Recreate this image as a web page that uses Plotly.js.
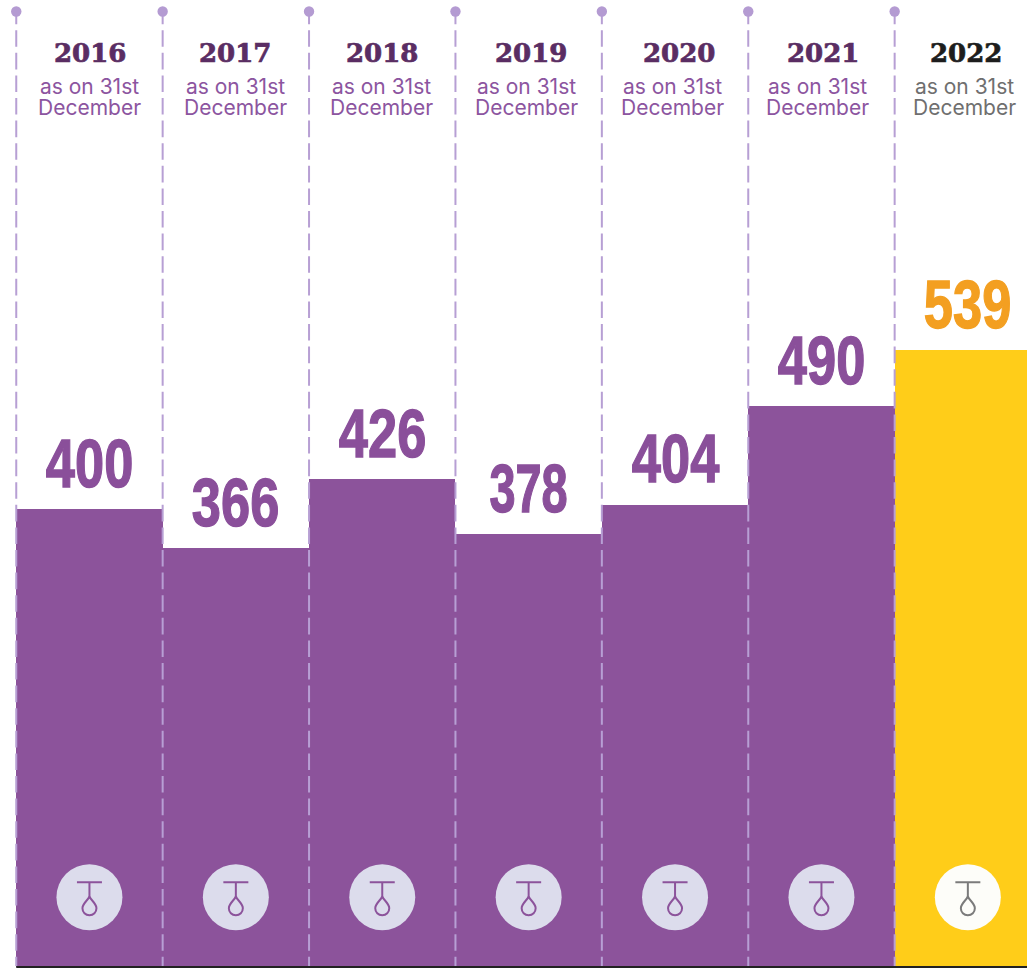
<!DOCTYPE html>
<html>
<head>
<meta charset="utf-8">
<script src="https://cdn.plot.ly/plotly-3.0.1.min.js"></script>
<style>html,body{margin:0;padding:0;background:#fff;overflow:hidden}#chart{width:1027px;height:968px}</style>
</head>
<body>
<div id="chart"></div>
<script>
const years = ["2016","2017","2018","2019","2020","2021","2022"];
const values = [400,366,426,378,404,490,539];
const barColors = ["#8c539b","#8c539b","#8c539b","#8c539b","#8c539b","#8c539b","#ffcd19"];
const valueColors = ["#8a4f9a","#8a4f9a","#8a4f9a","#8a4f9a","#8a4f9a","#8a4f9a","#f39f21"];
const yearColors = ["#5a2d63","#5a2d63","#5a2d63","#5a2d63","#5a2d63","#5a2d63","#1d1d1d"];
const subColors = ["#8c55a0","#8c55a0","#8c55a0","#8c55a0","#8c55a0","#8c55a0","#6f6f6f"];
const circleColors = ["#dcdcec","#dcdcec","#dcdcec","#dcdcec","#dcdcec","#dcdcec","#fdfdf9"];
const iconColors = ["#8c539b","#8c539b","#8c539b","#8c539b","#8c539b","#8c539b","#7b7b7b"];
const subLabel = "as on 31st<br>December";
const yearShift = [1,-1,0,2,4,2,-2];
const subShift = [0,0,-1,-2,-3,-4,-3];
const valueShift = [0,0,0,0,0,0,0];
const valueWidthScale = [0.76,0.76,0.76,0.68,0.76,0.76,0.76];

const H = 968;
const idx = years.map((_, i) => i);
const pf = px => 1 - px / H;
const iconLevel = 61;

const traces = [
  {type:"bar", x:idx, y:values, width:1, marker:{color:barColors, line:{width:0}}, hoverinfo:"x+y"},
  {type:"scatter", mode:"markers", x:idx, y:idx.map(() => iconLevel),
   marker:{size:66, color:circleColors, line:{width:0}}, hoverinfo:"skip"}
];

const shapes = [];
idx.forEach(i => {
  shapes.push({type:"line", layer:"above", xref:"x", yref:"paper", x0:i-0.5, x1:i-0.5, y0:pf(7.6), y1:pf(966),
    line:{color:"#b79fd4", width:2, dash:"16.6px,6px"}});
  shapes.push({type:"circle", layer:"above", xref:"x", yref:"paper", xsizemode:"pixel", ysizemode:"pixel",
    xanchor:i-0.5, yanchor:pf(11.5), x0:-5.2, x1:5.2, y0:-5.2, y1:5.2,
    fillcolor:"#b49bd2", line:{width:0}});
  const icon = {type:"path", layer:"above", xref:"x", yref:"y", xsizemode:"pixel", ysizemode:"pixel",
    xanchor:i, yanchor:iconLevel, line:{color:iconColors[i], width:2}};
  shapes.push(Object.assign({}, icon, {path:"M -12.5 15 L 12.5 15 M 0 15 L 0 1"}));
  shapes.push(Object.assign({}, icon, {path:"M 0 1 C 1 -3 7 -6 7 -11 C 7 -15 4 -18 0 -18 C -4 -18 -7 -15 -7 -11 C -7 -6 -1 -3 0 1 Z"}));
});
shapes.push({type:"line", layer:"above", xref:"x", yref:"paper", x0:-0.5, x1:6.41, y0:pf(967), y1:pf(967),
  line:{color:"#222222", width:2}});

const annotations = [];
idx.forEach(i => {
  annotations.push({x:i, xshift:valueShift[i], y:values[i], yshift:46, yref:"y", xref:"x", text:values[i].toString(), showarrow:false,
    xanchor:"center", yanchor:"middle",
    font:{family:"'Liberation Sans', sans-serif", size:69, color:valueColors[i], weight:700}});
  annotations.push({x:i, xshift:yearShift[i], y:pf(53), yref:"paper", xref:"x", text:"<b>"+years[i]+"</b>", showarrow:false,
    xanchor:"center", yanchor:"middle",
    font:{family:"'DejaVu Serif', serif", size:26, color:yearColors[i]}});
  annotations.push({x:i, xshift:subShift[i], y:pf(100), yref:"paper", xref:"x", text:subLabel, showarrow:false,
    xanchor:"center", yanchor:"middle",
    font:{family:"Inter, sans-serif", size:21, color:subColors[i]}});
});

const layout = {
  width:1027, height:968,
  margin:{l:0,r:0,t:0,b:0,pad:0},
  paper_bgcolor:"#ffffff", plot_bgcolor:"#ffffff",
  showlegend:false, bargap:0,
  xaxis:{type:"linear", range:[-0.611,6.404], visible:false, fixedrange:true},
  yaxis:{type:"linear", range:[-0.87,844.8], visible:false, fixedrange:true},
  shapes:shapes, annotations:annotations
};
Plotly.newPlot("chart", traces, layout, {displayModeBar:false, staticPlot:true}).then(() => {
  document.querySelectorAll("#chart .annotation-text").forEach(el => {
    const t = el.textContent;
    if (/^\d{3}$/.test(t)) {
      const b = el.getBBox();
      const cx = b.x + b.width / 2;
      const s = valueWidthScale[values.indexOf(Number(t))];
      el.setAttribute("transform", `translate(${cx},0) scale(${s},1) translate(${-cx},0)`);
      el.style.stroke = el.style.fill;
      el.style.strokeWidth = "1.4px";
    } else if (/^\d{4}$/.test(t)) {
      el.style.stroke = el.style.fill;
      el.style.strokeWidth = "0.7px";
    } else {
      el.querySelectorAll("tspan.line").forEach((s, k) => { if (k > 0) s.setAttribute("dy", "21px"); });
    }
  });
});
</script>
</body>
</html>
